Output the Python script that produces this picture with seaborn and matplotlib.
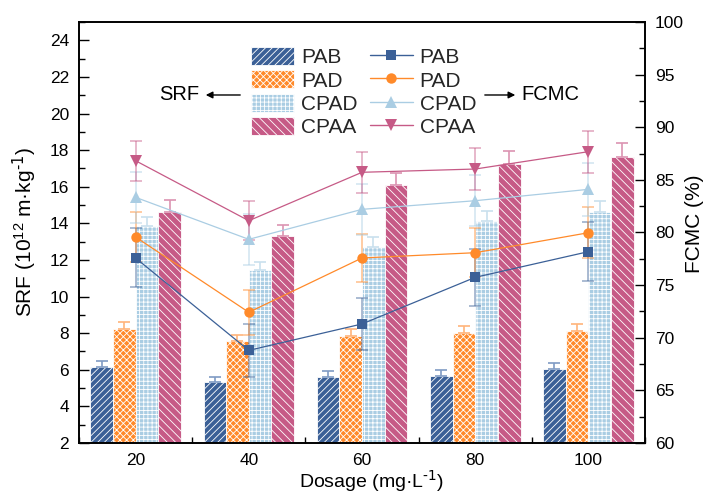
import numpy as np
import pandas as pd
import matplotlib
matplotlib.use("Agg")
import matplotlib.pyplot as plt
from matplotlib.patches import Patch
from matplotlib.lines import Line2D
from matplotlib.ticker import MultipleLocator
import seaborn as sns

# ---------------- data ----------------
dosage = [20, 40, 60, 80, 100]
samples = ["PAB", "PAD", "CPAD", "CPAA"]

srf_pab = [6.15, 5.32, 5.63, 5.67, 6.05]
srf_pad = [8.22, 7.58, 7.87, 8.00, 8.13]
srf_cpad = [13.84, 11.47, 12.73, 14.15, 14.64]
srf_cpaa = [14.63, 13.33, 16.07, 17.25, 17.64]
srf_err_pab = [0.33, 0.28, 0.30, 0.30, 0.31]
srf_err_pad = [0.40, 0.30, 0.35, 0.40, 0.38]
srf_err_cpad = [0.53, 0.43, 0.50, 0.55, 0.60]
srf_err_cpaa = [0.65, 0.57, 0.70, 0.70, 0.76]

fcmc_pab = [77.58, 68.80, 71.31, 75.74, 78.18]
fcmc_pad = [79.57, 72.42, 77.58, 78.08, 79.98]
fcmc_cpad = [83.34, 79.35, 82.20, 83.02, 84.10]
fcmc_cpaa = [86.82, 81.12, 85.72, 86.03, 87.68]
fcmc_err_pab = [2.8, 2.5, 2.5, 2.7, 2.8]
fcmc_err_pad = [2.4, 2.15, 2.3, 2.3, 2.4]
fcmc_err_cpad = [2.4, 2.45, 2.4, 2.4, 2.5]
fcmc_err_cpaa = [1.9, 1.85, 1.93, 2.0, 2.0]

x_ticks = [20, 40, 60, 80, 100]
srf_ticks = list(range(2, 25, 2))
fcmc_ticks = list(range(60, 101, 5))

# ---------------- style ----------------
sns.set_theme(style="ticks")
plt.rcParams["font.family"] = ["Liberation Sans", "DejaVu Sans"]
plt.rcParams["mathtext.default"] = "regular"
plt.rcParams["hatch.linewidth"] = 0.6
plt.rcParams["hatch.color"] = "white"

colors = ["#3B6097", "#FF8A2A", "#AACDE3", "#C65A86"]
err_colors = ["#7F9BC4", "#FFB47A", "#C9E0EE", "#DC93B2"]
hatches = ["/////", "xxxxx", "++++", "\\\\\\\\"]
markers = ["s", "o", "^", "v"]
msizes = [6.5, 7.5, 8.5, 8.5]

srf_vals = [srf_pab, srf_pad, srf_cpad, srf_cpaa]
srf_errs = [srf_err_pab, srf_err_pad, srf_err_cpad, srf_err_cpaa]
fcmc_vals = [fcmc_pab, fcmc_pad, fcmc_cpad, fcmc_cpaa]
fcmc_errs = [fcmc_err_pab, fcmc_err_pad, fcmc_err_cpad, fcmc_err_cpaa]

df_bar = pd.DataFrame({
    "Dosage": np.tile(dosage, 4),
    "Sample": np.repeat(samples, len(dosage)),
    "SRF": np.concatenate(srf_vals),
})
df_line = pd.DataFrame({
    "Dosage": np.tile(dosage, 4),
    "Sample": np.repeat(samples, len(dosage)),
    "FCMC": np.concatenate(fcmc_vals),
})

fig = plt.figure(figsize=(7.05, 4.93), dpi=100)
ax = fig.add_axes([0.112, 0.1014, 0.915 - 0.112, 0.9554 - 0.1014])

sns.barplot(data=df_bar, x="Dosage", y="SRF", hue="Sample", hue_order=samples,
            palette=colors, native_scale=True, errorbar=None, width=0.8,
            dodge=True, legend=False, edgecolor="white", linewidth=0.6,
            saturation=1, ax=ax)

bar_containers = list(ax.containers)
for i, cont in enumerate(bar_containers):
    xs, hs = [], []
    for p in cont.patches:
        p.set_hatch(hatches[i])
        xs.append(p.get_x() + p.get_width() / 2)
        hs.append(p.get_height())
    ax.errorbar(xs, hs, yerr=[np.zeros(len(hs)), srf_errs[i]], fmt="none",
                ecolor=err_colors[i], elinewidth=1.2, capsize=4, capthick=1.2,
                zorder=1)

ax.set_xlim(10, 110)
ax.set_ylim(2, 25)
ax.set_xticks(x_ticks)
ax.set_xticklabels([str(v) for v in x_ticks])
ax.set_yticks(srf_ticks)
ax.xaxis.set_minor_locator(MultipleLocator(10))
ax.yaxis.set_minor_locator(MultipleLocator(1))
ax.tick_params(axis="both", which="both", direction="in", top=False, right=False,
               labelsize=12.5, width=1, color="black", labelcolor="black", pad=7)
ax.tick_params(which="major", length=7)
ax.tick_params(which="minor", length=4)
ax.set_xlabel(r"Dosage (mg·L$^{\text{-1}}$)", fontsize=14, color="black")
ax.xaxis.set_label_coords(0.5 + 10 / 566, -0.062)
ax.set_ylabel(r"SRF (10$^{12}$ m·kg$^{\text{-1}}$)", fontsize=15, labelpad=8,
              color="black")

ax2 = ax.twinx()
sns.lineplot(data=df_line, x="Dosage", y="FCMC", hue="Sample", style="Sample",
             hue_order=samples, style_order=samples, palette=colors,
             markers=markers, dashes=False, legend=False, linewidth=0.9,
             markeredgewidth=0, ax=ax2)
for i, line in enumerate(ax2.get_lines()[:4]):
    line.set_markersize(msizes[i])
for i in range(4):
    ax2.errorbar(dosage, fcmc_vals[i], yerr=fcmc_errs[i], fmt="none",
                 ecolor=colors[i], alpha=0.5, elinewidth=1.2, capsize=4,
                 capthick=1.2, zorder=1)
ax2.set_ylim(60, 100)
ax2.set_yticks(fcmc_ticks)
ax2.yaxis.set_minor_locator(MultipleLocator(2.5))
ax2.tick_params(axis="y", which="both", direction="in", labelsize=12.5,
                width=1, color="black", labelcolor="black", pad=7)
ax2.tick_params(which="major", length=7)
ax2.tick_params(which="minor", length=4)
ax2.set_ylabel("FCMC (%)", fontsize=15, color="black")
ax2.yaxis.set_label_coords(1.071, 0.52)
ax2.set_xlim(10, 110)

for a in (ax, ax2):
    for s in a.spines.values():
        s.set_color("black")
        s.set_linewidth(1.2)

# legend
handles = [Patch(facecolor=colors[i], edgecolor="white", hatch=hatches[i], linewidth=0.6)
           for i in range(4)]
handles += [Line2D([], [], color=colors[i], marker=markers[i], markersize=msizes[i],
                   markeredgewidth=0, linewidth=1) for i in range(4)]
labels = samples + samples
fig.legend(handles, labels, ncol=2, loc="upper left",
           bbox_to_anchor=(251 / 705, 1 - 47 / 493), frameon=False,
           fontsize=15, handlelength=2.07, handleheight=0.96,
           handletextpad=0.32, columnspacing=0.6, labelspacing=0.15,
           borderpad=0, borderaxespad=0)

def fx(px):
    return (px - 79) / 566

def fy(py):
    return (443 - py) / 421

ax.annotate("", xy=(fx(203), fy(95)), xytext=(fx(243), fy(95)),
            xycoords="axes fraction", textcoords="axes fraction",
            arrowprops=dict(arrowstyle="-|>", color="black", lw=1, mutation_scale=10))
ax.text(fx(199), fy(95), "SRF", transform=ax.transAxes, ha="right", va="center",
        fontsize=14.5, color="black")
ax.annotate("", xy=(fx(518), fy(95)), xytext=(fx(482), fy(95)),
            xycoords="axes fraction", textcoords="axes fraction",
            arrowprops=dict(arrowstyle="-|>", color="black", lw=1, mutation_scale=10))
ax.text(fx(521), fy(95), "FCMC", transform=ax.transAxes, ha="left", va="center",
        fontsize=14.5, color="black")

fig.savefig("out.png", dpi=100, facecolor="white")
